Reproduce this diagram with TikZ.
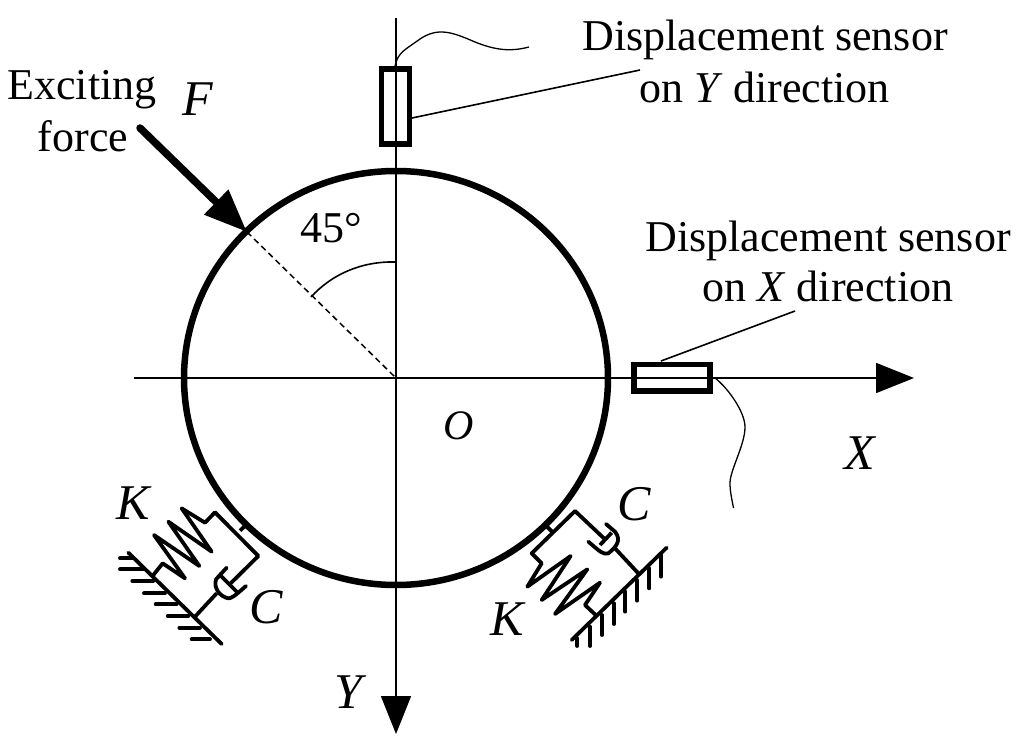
\documentclass[tikz,border=0pt]{standalone}
\usepackage{fontspec}
\setmainfont{Liberation Serif}
\usetikzlibrary{arrows.meta,shapes.geometric}
\newcommand{\fs}[1]{\fontsize{#1}{#1}\selectfont}
\tikzset{
 x=1pt,y=-1pt,
 axis/.style={line width=1.7pt,-{Triangle[length=38pt,width=30pt]},shorten >=-1pt},
 thin line/.style={line width=1.6pt},
 wire/.style={line width=1.3pt},
 sensorbox/.style={draw,line width=5.5pt,inner sep=0pt},
 mech/.style={line width=3.8pt},
 lab/.style={inner sep=0pt,anchor=base,font=\fs{44}},
 sym/.style={inner sep=0pt,anchor=base,font=\fs{50}\itshape},
}
\begin{document}
\begin{tikzpicture}
\useasboundingbox (0,0) rectangle (1024,746);
\fill[white] (0,0) rectangle (1024,746);
% coordinates
\coordinate (o) at (396,378);
\coordinate (xs) at (134,378);
\coordinate (xe) at (913,378);
\coordinate (ys) at (396,18);
\coordinate (ye) at (396,733);
\coordinate (ftail) at (140,128);
\coordinate (ftip) at (247,232);
\coordinate (ly) at (640,70);
\coordinate (lx) at (795,311);
% disc
\node[draw,ellipse,line width=6.5pt,minimum width=424pt,minimum height=414pt,inner sep=0pt] (disc) at (o) {};
% axes
\draw[axis] (xs) -- (xe);
\draw[axis] (ys) -- (ye);
% force and angle
\draw[line width=1.5pt,dash pattern=on 6pt off 4pt] (ftip) -- (o);
\draw[line width=7.5pt,line cap=round,-{Triangle[length=43pt,width=33pt]},shorten >=0pt] (ftail) -- (ftip);
\draw[thin line] (311,297) .. controls (332,274) and (362,261) .. (396,262);
% sensors
\node[sensorbox,minimum width=28pt,minimum height=75pt] (sy) at (395.3,106.7) {};
\node[sensorbox,minimum width=76pt,minimum height=26.5pt] (sx) at (672.2,377.5) {};
\draw[wire] (395,66) .. controls (398,52) and (405,50) .. (420,39) .. controls (438,27) and (452,32) .. (475,42) .. controls (495,50) and (510,52) .. (529,47);
\draw[wire] (715,378) .. controls (728,388) and (745,412) .. (745,427) .. controls (745,445) and (730,470) .. (730,483) .. controls (730,492) and (732,500) .. (733.5,508);
\draw[thin line] (sy.east |- 0,118) -- (ly);
\draw[thin line] (661,361) -- (lx);
% left support
\begin{scope}[shift={(100,480)},scale=1/3]
\draw[mech] (420,152) -- (440,133);
\draw[mech,line join=round,line cap=round] (345,97) -- (315,128) -- (245,85) -- (335,215) -- (205,125) -- (298,258) -- (162,165) -- (255,295) -- (188,250) -- (160,285);
\draw[mech,line join=round] (345,97) -- (475,228) -- (390,312);
\draw[mech,line join=round,line cap=round] (380,263) -- (348,298) .. controls (340,325) and (360,350) .. (385,355) .. controls (395,355) and (405,347) .. (438,318);
\draw[mech] (362,287) -- (412,337);
\draw[mech] (350,340) -- (285,410);
\draw[mech,line cap=round] (85,218) -- (365,492);
\foreach \a/\b/\c in {60/100/235,60/130/268,97/160/303,132/195/340,167/230/373,203/265/408,238/300/443,275/330/478}
  \draw[mech,line cap=round] (\a,\c) -- (\b,\c);
\end{scope}
% right support
\begin{scope}[shift={(480,480)},scale=1/3]
\draw[mech] (193,132) -- (218,157);
\draw[mech,line join=round,line cap=round] (285,93) -- (155,220) -- (185,250) -- (142,320) -- (272,228) -- (185,360) -- (322,268) -- (225,402) -- (360,308) -- (315,375) -- (347,405);
\draw[mech,line join=round] (285,93) -- (375,178);
\draw[mech,line join=round,line cap=round] (378,132) -- (405,155) .. controls (425,180) and (410,200) .. (385,220) .. controls (370,225) and (360,215) .. (325,185);
\draw[mech] (360,195) -- (395,158);
\draw[mech] (405,205) -- (475,280);
\draw[mech,line cap=round] (275,480) -- (560,203);
\foreach \a/\b/\c in {292/475/498,330/440/498,366/405/465,402/370/432,436/335/395,472/300/362,508/265/325,543/225/290}
  \draw[mech,line cap=round] (\a,\b) -- (\a,\c);
\end{scope}
% labels
\node[lab] (t1) at (765,50.5) {Displacement sensor};
\node[lab] (t2) at (764.5,102.5) {on \textit{Y} direction};
\node[lab] (t3) at (828,251) {Displacement sensor};
\node[lab] (t4) at (828,301.5) {on \textit{X} direction};
\node[lab] (t5) at (82,100) {Exciting};
\node[lab] (t6) at (83,152) {force};
\node[sym] (f) at (198,116) {F};
\node[lab] (a) at (331.5,242) {45°};
\node[inner sep=0pt,anchor=base,font=\fs{42}\itshape] (oo) at (459,439) {O};
\node[sym] (xl) at (860,469) {X};
\node[sym] (yl) at (348,708) {Y};
\node[sym] (k1) at (133,519) {K};
\node[sym] (c1) at (266,623) {C};
\node[sym] (c2) at (634,520) {C};
\node[sym] (k2) at (507,635) {K};
\end{tikzpicture}
\end{document}
